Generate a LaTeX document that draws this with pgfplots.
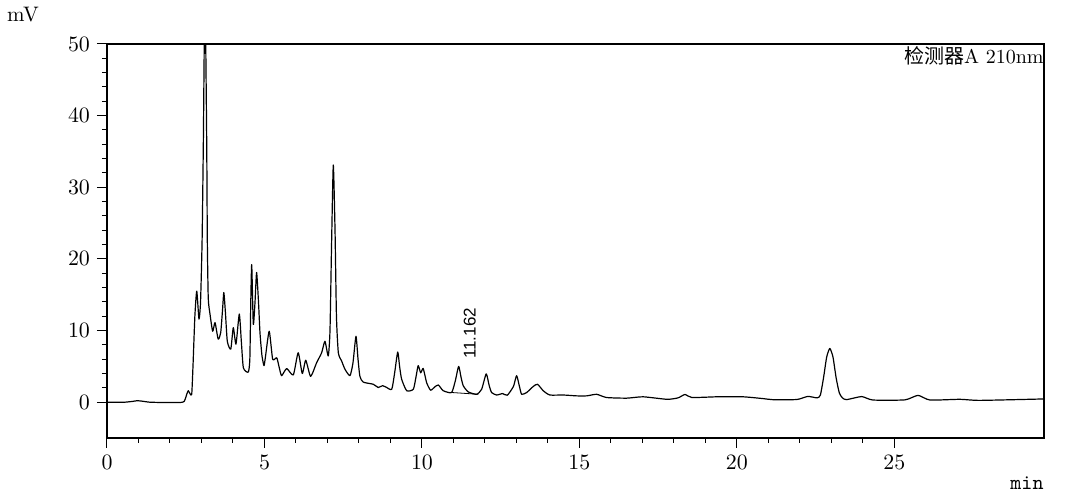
\documentclass[border=0pt]{standalone}
\usepackage{fontspec}
\usepackage{pgfplots}
\pgfplotsset{compat=1.18}
\newfontfamily\cjk{Noto Sans CJK SC}
\newfontfamily\lab{Liberation Sans}

\begin{document}
\begin{tikzpicture}
\begin{axis}[
    scale only axis,
    width=468.5pt, height=197pt,
    xmin=0, xmax=29.75,
    ymin=-5, ymax=50,
    xtick={0,5,10,15,20,25},
    ytick={0,10,20,30,40,50},
    minor x tick num=4,
    minor y tick num=4,
    xtick pos=bottom, ytick pos=left,
    tick align=outside,
    major tick length=5pt,
    minor tick length=2.5pt,
    tick style={black, line width=0.5pt},
    axis line style={black, line width=0.6pt},
    ticklabel style={font=\fontsize{10.5}{12}\selectfont},
    clip=true,
]
% chromatogram trace, values
\addplot[black, line width=0.6pt, line join=round, smooth, tension=0.35] coordinates {
(0.0,0.0) (0.5,-0.02) (0.8,0.1) (0.95,0.2) (1.1,0.15) (1.35,0.0) (1.8,-0.05) (2.3,-0.05) (2.45,0.1)
(2.54,1.2) (2.58,1.6) (2.635,1.2) (2.69,1.1) (2.73,5) (2.79,12) (2.85,15.5) (2.92,11.6) (2.97,14)
(3.02,22.7) (3.06,36.6) (3.11,58) (3.165,36.6) (3.185,22.7) (3.215,14.5) (3.27,12.3) (3.355,9.9)
(3.43,11.1) (3.53,8.8) (3.61,9.7) (3.67,13) (3.71,15.3) (3.76,12.5) (3.82,8.5) (3.93,7.4)
(4.01,10.4) (4.095,8.1) (4.2,12.3) (4.265,8.5) (4.33,4.8) (4.485,4.2) (4.535,6) (4.565,14)
(4.595,19.2) (4.645,10.9) (4.70,14) (4.75,18.1) (4.81,14) (4.857,9.7) (4.92,6.5) (4.985,5.1)
(5.03,6.3) (5.15,9.9) (5.26,6.0) (5.39,6.2) (5.47,4.8) (5.545,3.7) (5.705,4.7) (5.915,3.8)
(6.07,6.9) (6.2,4.0) (6.31,5.85) (6.465,3.6) (6.655,5.5) (6.815,6.9) (6.92,8.5) (7.025,6.45)
(7.08,10) (7.13,22) (7.185,33.1) (7.24,24) (7.285,12) (7.345,6.9) (7.45,5.75) (7.555,4.6)
(7.715,3.7) (7.81,5.5) (7.905,9.2) (7.97,6) (8.03,3.6) (8.135,2.8) (8.455,2.5) (8.61,2.05)
(8.75,2.3) (8.88,2.05) (9.04,1.8) (9.13,4) (9.23,7.0) (9.29,5) (9.355,3.2) (9.515,1.6)
(9.725,1.8) (9.81,3.5) (9.88,5.1) (9.96,4.1) (10.04,4.7) (10.15,2.7) (10.275,1.67) (10.4,2.1)
(10.52,2.4) (10.675,1.6) (10.94,1.35) (11.06,3) (11.165,5.0) (11.24,3.5) (11.31,2.3) (11.47,1.43)
(11.735,1.1) (11.895,1.8) (12.04,3.95) (12.13,2.4) (12.21,1.35) (12.37,1.0) (12.56,1.2) (12.71,0.97)
(12.905,2.2) (13.005,3.7) (13.095,2.2) (13.165,1.1) (13.325,1.35) (13.535,2.2) (13.67,2.5)
(13.85,1.6) (14.06,1.0) (14.485,1.0) (14.91,0.88) (15.23,0.88) (15.545,1.1) (15.86,0.65)
(16.5,0.56) (17.02,0.75) (17.78,0.4) (18.13,0.6) (18.35,1.07) (18.57,0.65) (19.37,0.75)
(20.19,0.75) (20.83,0.5) (21.14,0.35) (21.9,0.37) (22.25,0.8) (22.55,0.6) (22.65,1.0)
(22.75,3.4) (22.85,6.3) (22.95,7.5) (23.05,6.3) (23.15,3.4) (23.25,1.3) (23.35,0.6) (23.48,0.35)
(23.96,0.78) (24.32,0.3) (25.33,0.32) (25.75,0.95) (26.13,0.3) (27.08,0.4) (27.71,0.25) (29.75,0.45)
};
% integration baseline under the labelled peak
\addplot[black, line width=0.4pt] coordinates {(10.94,1.35) (11.79,1.1)};
\node[rotate=90, anchor=west, inner sep=0pt, font=\lab\fontsize{8.5}{10}\selectfont]
    at (axis cs:11.52,6.0) {11.162};
\node[anchor=north east, inner sep=0pt, font=\fontsize{10}{12}\selectfont]
    at ([yshift=-1pt]rel axis cs:1,1) {{\cjk 检测器}A 210nm};
\end{axis}
\node[anchor=center, inner sep=0pt, font=\fontsize{10.5}{12}\selectfont] at ([xshift=-42pt,yshift=14.5pt]current axis.north west) {mV};
\node[anchor=center, inner sep=0pt, font=\ttfamily\fontsize{10.5}{12}\selectfont] at ([xshift=-8.5pt,yshift=-22.5pt]current axis.south east) {min};
\useasboundingbox ([shift={(-53.5pt,-28pt)}]current axis.south west) rectangle ([shift={(16pt,22pt)}]current axis.north east);
\end{tikzpicture}
\end{document}
